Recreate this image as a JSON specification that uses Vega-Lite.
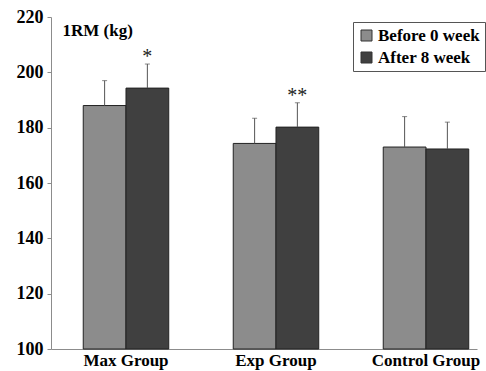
{
  "$schema": "https://vega.github.io/schema/vega-lite/v6.json",
  "autosize": "none",
  "width": 426,
  "height": 332,
  "padding": {"left": 51, "top": 17, "right": 9, "bottom": 22},
  "background": "white",
  "config": {"view": {"stroke": null}, "font": "Liberation Serif"},
  "data": {
    "values": [
      {"group": "Max Group", "time": "Before 0 week", "mean": 188, "upper": 197, "sig": ""},
      {"group": "Max Group", "time": "After 8 week", "mean": 194.3, "upper": 203, "sig": "*"},
      {"group": "Exp Group", "time": "Before 0 week", "mean": 174.3, "upper": 183.4, "sig": ""},
      {"group": "Exp Group", "time": "After 8 week", "mean": 180.2, "upper": 189, "sig": "**"},
      {"group": "Control Group", "time": "Before 0 week", "mean": 173, "upper": 184, "sig": ""},
      {"group": "Control Group", "time": "After 8 week", "mean": 172.3, "upper": 182, "sig": ""}
    ]
  },
  "encoding": {
    "x": {
      "field": "group", "type": "nominal", "sort": ["Max Group", "Exp Group", "Control Group"],
      "scale": {"paddingInner": 0.43, "paddingOuter": 0.135, "align": 0.796},
      "axis": {
        "title": null, "labelAngle": 0, "ticks": false, "domainColor": "#8c8c8c",
        "labelFont": "Liberation Serif", "labelFontWeight": "bold", "labelFontSize": 17,
        "labelColor": "black", "labelPadding": 3
      }
    },
    "xOffset": {"field": "time", "type": "nominal", "scale": {"domain": ["Before 0 week", "After 8 week"], "paddingInner": 0, "paddingOuter": 0}}
  },
  "layer": [
    {
      "mark": {"type": "bar", "stroke": "#222", "strokeWidth": 1},
      "encoding": {
        "y": {
          "field": "mean", "type": "quantitative",
          "scale": {"domain": [100, 220], "zero": false, "nice": false},
          "axis": {
            "values": [100, 120, 140, 160, 180, 200, 220], "grid": false,
            "domainColor": "#8c8c8c", "tickColor": "#8c8c8c", "tickSize": 4,
            "labelFont": "Liberation Serif", "labelFontWeight": "bold", "labelFontSize": 18,
            "labelColor": "black", "labelPadding": 4,
            "title": "1RM (kg)", "titleAngle": 0, "titleX": 11, "titleY": 13,
            "titleAlign": "left", "titleBaseline": "middle",
            "titleFont": "Liberation Serif", "titleFontWeight": "bold", "titleFontSize": 17, "titleColor": "black"
          }
        },
        "y2": {"datum": 100},
        "color": {
          "field": "time", "type": "nominal",
          "scale": {"domain": ["Before 0 week", "After 8 week"], "range": ["#8c8c8c", "#404040"]},
          "legend": {
            "title": null, "orient": "none", "legendX": 302, "legendY": 5,
            "strokeColor": "#555", "padding": 5, "symbolType": "square", "symbolSize": 121,
            "symbolStrokeColor": "#333", "symbolStrokeWidth": 1,
            "labelFont": "Liberation Serif", "labelFontWeight": "bold", "labelFontSize": 17,
            "labelColor": "black", "rowPadding": 4, "labelOffset": 3
          }
        }
      }
    },
    {
      "mark": {"type": "rule", "color": "#555", "strokeWidth": 1},
      "encoding": {
        "y": {"field": "mean", "type": "quantitative"},
        "y2": {"field": "upper"}
      }
    },
    {
      "mark": {"type": "tick", "color": "#555", "size": 5, "thickness": 1, "orient": "horizontal"},
      "encoding": {
        "y": {"field": "upper", "type": "quantitative"}
      }
    },
    {
      "mark": {"type": "text", "font": "Liberation Serif", "fontSize": 20, "dy": -1, "baseline": "alphabetic", "color": "#222"},
      "encoding": {
        "y": {"field": "upper", "type": "quantitative"},
        "text": {"field": "sig"}
      }
    }
  ]
}
